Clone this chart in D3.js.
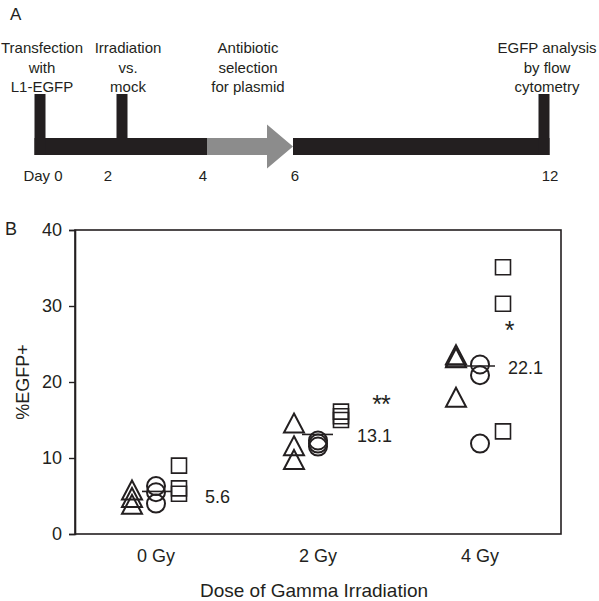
<!DOCTYPE html>
<html>
<head>
<meta charset="utf-8">
<script src="https://cdn.jsdelivr.net/npm/d3@7"></script>
<style>
  html, body { margin: 0; padding: 0; background: #fff; }
  svg { display: block; }
  text { font-family: "Liberation Sans", Arial, Helvetica, sans-serif; fill: #231f20; }
</style>
</head>
<body>
<svg id="chart" width="599" height="601"></svg>
<script>
// ---------------- DATA ----------------
// Panel A: timeline
const timelineDays = [0, 2, 4, 6, 12];
const dayLabels = ["Day 0", "2", "4", "6", "12"];
const eventDays = [0, 2, 4, 12];          // days with event captions
const eventCaptions = [
  ["Transfection", "with", "L1-EGFP"],
  ["Irradiation", "vs.", "mock"],
  ["Antibiotic", "selection", "for plasmid"],
  ["EGFP analysis", "by flow", "cytometry"]
];
const markerDays = [0, 2, 12];            // vertical bars
const selectionStart = 4, selectionEnd = 6; // grey arrow

// Panel B: %EGFP+ by dose, three experiments (triangle, circle, square)
const doses = ["0 Gy", "2 Gy", "4 Gy"];
const experiments = ["triangle", "circle", "square"];
const triangleValues = [[5.8, 4.8, 3.9], [14.6, 11.6, 9.8], [23.6, 23.2, 18.0]];
const circleValues   = [[6.3, 5.5, 4.0], [12.3, 11.9, 11.5], [22.3, 20.9, 11.9]];
const squareValues   = [[9.0, 6.0, 5.3], [16.1, 15.5, 15.0], [35.1, 30.3, 13.5]];
const meanValues = [5.6, 13.1, 22.1];
const meanLabels = ["5.6", "13.1", "22.1"];
const significance = ["", "**", "*"];
const significanceLevel = [0, 17.8, 27.5];
const yTicks = [0, 10, 20, 30, 40];
const yDomain = [0, 40];
const yLabel = "%EGFP+";
const xLabel = "Dose of Gamma Irradiation";

// ---------------- LAYOUT ----------------
const svg = d3.select("#chart");
const INK = "#231f20";
const GREY = "#8c8c8c";

// ---- Panel A ----
svg.append("text").attr("x", 10).attr("y", 20).style("font-size", "17px").text("A");

// schematic (non-uniform) day scale
const dayX = d3.scaleLinear().domain(timelineDays).range([40, 122, 207, 293, 544]);
const dayLabelX = d3.scaleLinear().domain(timelineDays).range([43, 108, 203, 295, 550]);
const captionX = d3.scaleLinear().domain(eventDays).range([42, 128, 248, 547]);
const barTop = 138, barH = 17, tickTop = 94, tickW = 11;

const gA = svg.append("g");
// black bar day0 -> day4
gA.append("rect").attr("x", dayX(0) - tickW / 2).attr("y", barTop)
  .attr("width", dayX(selectionStart) - (dayX(0) - tickW / 2)).attr("height", barH).attr("fill", INK);
// grey arrow day4 -> day6
const headLen = 26, headHalf = 22;
const ax0 = dayX(selectionStart), ax1 = dayX(selectionEnd), ay = barTop + barH / 2;
gA.append("path")
  .attr("d", `M${ax0},${barTop}L${ax1 - headLen},${barTop}L${ax1 - headLen},${ay - headHalf}L${ax1},${ay}L${ax1 - headLen},${ay + headHalf}L${ax1 - headLen},${barTop + barH}L${ax0},${barTop + barH}Z`)
  .attr("fill", GREY);
// black bar day6 -> day12
gA.append("rect").attr("x", dayX(selectionEnd)).attr("y", barTop)
  .attr("width", dayX(12) + tickW / 2 - dayX(selectionEnd)).attr("height", barH).attr("fill", INK);
// vertical event bars
gA.selectAll("rect.tick").data(markerDays).join("rect").attr("class", "tick")
  .attr("x", d => dayX(d) - tickW / 2).attr("y", tickTop)
  .attr("width", tickW).attr("height", d => (d === 2 ? barTop : barTop + barH) - tickTop)
  .attr("fill", INK);
// day labels
gA.selectAll("text.day").data(timelineDays).join("text").attr("class", "day")
  .attr("x", d => dayLabelX(d)).attr("y", 181).attr("text-anchor", "middle")
  .style("font-size", "15px").text((d, i) => dayLabels[i]);
// captions
eventDays.forEach((d, i) => {
  const t = gA.append("text").attr("text-anchor", "middle").style("font-size", "15px");
  eventCaptions[i].forEach((line, j) => {
    t.append("tspan").attr("x", captionX(d)).attr("y", 53 + j * 19.5).text(line);
  });
});

// ---- Panel B ----
svg.append("text").attr("x", 5).attr("y", 235).style("font-size", "18px").text("B");

const plot = { left: 75, right: 561, top: 230, bottom: 534 };
const x = d3.scaleBand().domain(doses).range([plot.left, plot.right]);
const y = d3.scaleLinear().domain(yDomain).range([plot.bottom, plot.top]);
const xc = d => x(d) + x.bandwidth() / 2;

const gB = svg.append("g");
// frame
gB.append("rect").attr("x", plot.left).attr("y", plot.top)
  .attr("width", plot.right - plot.left).attr("height", plot.bottom - plot.top)
  .attr("fill", "none").attr("stroke", INK).attr("stroke-width", 1.6);
// y axis
const yAxis = gB.append("g").attr("transform", `translate(${plot.left},0)`)
  .call(d3.axisLeft(y).tickValues(yTicks).tickSize(6).tickPadding(7));
yAxis.select(".domain").attr("stroke", INK).attr("stroke-width", 1.6);
yAxis.selectAll(".tick line").attr("stroke", INK).attr("stroke-width", 1.4);
yAxis.selectAll(".tick text").style("font-size", "18px")
  .style("font-family", '"Liberation Sans", Arial, sans-serif').attr("fill", INK);
// x axis labels (no ticks)
const xAxis = gB.append("g").attr("transform", `translate(0,${plot.bottom})`)
  .call(d3.axisBottom(x).tickSize(0).tickPadding(15));
xAxis.select(".domain").remove();
xAxis.selectAll(".tick text").style("font-size", "18px")
  .style("font-family", '"Liberation Sans", Arial, sans-serif').attr("fill", INK);

// axis titles
svg.append("text").attr("transform", `translate(29,${(plot.top + plot.bottom) / 2}) rotate(-90)`)
  .attr("text-anchor", "middle").style("font-size", "18px").text(yLabel);
svg.append("text").attr("x", (plot.left + plot.right) / 2 - 4).attr("y", 597)
  .attr("text-anchor", "middle").style("font-size", "19px").text(xLabel);

// markers
const offsets = { triangle: -24, circle: 0, square: 23 };
const valueSets = { triangle: triangleValues, circle: circleValues, square: squareValues };
const points = [];
experiments.forEach(e => doses.forEach((d, i) => valueSets[e][i].forEach(v => points.push({ e, d, v }))));

function shapePath(p) {
  const cx = xc(p.d) + offsets[p.e], cy = y(p.v);
  if (p.e === "triangle") {
    const w = 10, h = 9.5;
    return `M${cx},${cy - h}L${cx + w},${cy + h}L${cx - w},${cy + h}Z`;
  }
  if (p.e === "square") {
    const s = 7.5;
    return `M${cx - s},${cy - s}H${cx + s}V${cy + s}H${cx - s}Z`;
  }
  const r = 9;
  return `M${cx - r},${cy}A${r},${r} 0 1,0 ${cx + r},${cy}A${r},${r} 0 1,0 ${cx - r},${cy}Z`;
}
gB.selectAll("path.pt").data(points).join("path").attr("class", "pt")
  .attr("d", shapePath).attr("fill", "none").attr("stroke", INK)
  .attr("stroke-width", d => d.e === "square" ? 1.6 : 2);

// mean lines & labels
const meanLineExtent = [[-14, 16], [-16, 15], [-35, 15]];
const meanLabelDx = [49, 39, 28];
gB.selectAll("line.mean").data(meanValues).join("line").attr("class", "mean")
  .attr("x1", (m, i) => xc(doses[i]) + meanLineExtent[i][0])
  .attr("x2", (m, i) => xc(doses[i]) + meanLineExtent[i][1])
  .attr("y1", m => y(m)).attr("y2", m => y(m))
  .attr("stroke", INK).attr("stroke-width", 1.6);
gB.selectAll("text.meanlab").data(meanValues).join("text").attr("class", "meanlab")
  .attr("x", (m, i) => xc(doses[i]) + meanLabelDx[i])
  .attr("y", (m, i) => y(m) + (i === 0 ? 12 : 8))
  .style("font-size", "18px").text((m, i) => meanLabels[i]);

// significance stars
const sigDx = [0, 63, 29];
gB.selectAll("text.sig").data(significance).join("text").attr("class", "sig")
  .attr("x", (s, i) => xc(doses[i]) + sigDx[i])
  .attr("y", (s, i) => y(significanceLevel[i]) + 14)
  .attr("text-anchor", "middle").style("font-size", "25px")
  .style("letter-spacing", "-1px").text(s => s);
</script>
</body>
</html>
